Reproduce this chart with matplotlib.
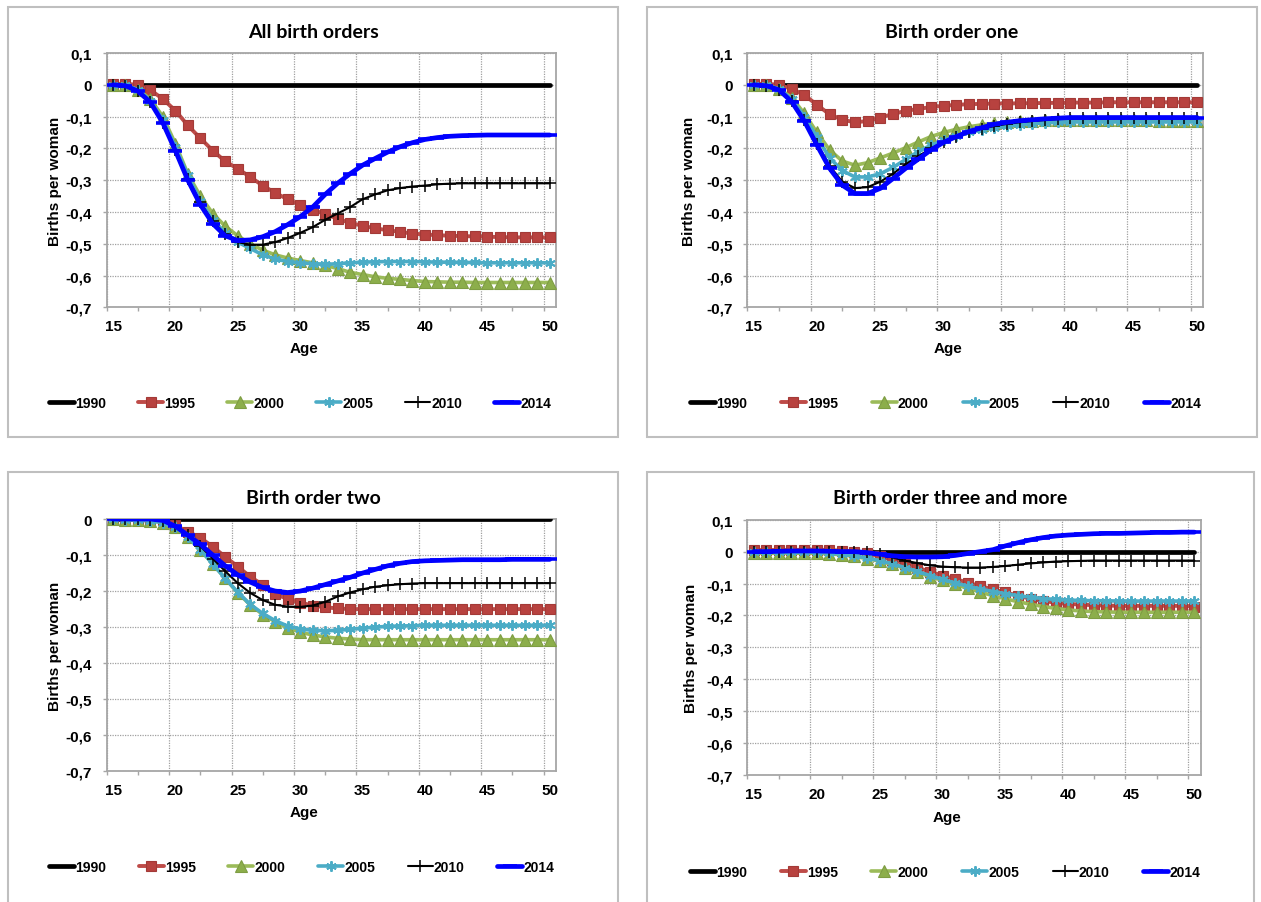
import numpy as np
import matplotlib
matplotlib.use("Agg")
import matplotlib.pyplot as plt
import matplotlib.transforms as mtransforms
from matplotlib import font_manager
from matplotlib.patches import Rectangle
from matplotlib.ticker import FuncFormatter

# ages 15..50, one value per age
AGES = np.arange(15, 51)
YEARS = ["1990", "1995", "2000", "2005", "2010", "2014"]

# All birth orders
all_1990 = [0.0] * 36
all_1995 = [0.003, 0.003, 0.000, -0.016, -0.045, -0.081, -0.128, -0.168, -0.207, -0.241, -0.264, -0.290,
            -0.317, -0.340, -0.360, -0.378, -0.393, -0.407, -0.421, -0.435, -0.443, -0.452, -0.457, -0.463,
            -0.468, -0.471, -0.473, -0.475, -0.476, -0.477, -0.478, -0.479, -0.480, -0.480, -0.480, -0.480]
all_2000 = [0.000, -0.002, -0.015, -0.045, -0.100, -0.185, -0.280, -0.350, -0.405, -0.445, -0.475, -0.500,
            -0.520, -0.535, -0.545, -0.553, -0.560, -0.568, -0.578, -0.590, -0.597, -0.604, -0.609, -0.612,
            -0.616, -0.619, -0.620, -0.621, -0.621, -0.622, -0.622, -0.622, -0.622, -0.622, -0.622, -0.622]
all_2005 = [0.000, -0.002, -0.015, -0.050, -0.110, -0.195, -0.285, -0.365, -0.425, -0.465, -0.495, -0.515,
            -0.535, -0.548, -0.556, -0.560, -0.563, -0.565, -0.563, -0.560, -0.558, -0.557, -0.556, -0.556,
            -0.556, -0.557, -0.558, -0.558, -0.559, -0.559, -0.560, -0.560, -0.560, -0.560, -0.560, -0.560]
all_2010 = [0.000, -0.003, -0.020, -0.055, -0.120, -0.205, -0.295, -0.370, -0.430, -0.470, -0.495, -0.503,
            -0.503, -0.495, -0.482, -0.466, -0.448, -0.425, -0.405, -0.385, -0.360, -0.345, -0.332, -0.325,
            -0.320, -0.317, -0.313, -0.311, -0.310, -0.310, -0.310, -0.310, -0.310, -0.310, -0.310, -0.310]
all_2014 = [0.000, -0.003, -0.020, -0.055, -0.120, -0.207, -0.300, -0.377, -0.437, -0.475, -0.490, -0.488,
            -0.478, -0.462, -0.440, -0.415, -0.385, -0.345, -0.310, -0.280, -0.253, -0.232, -0.212, -0.195,
            -0.182, -0.172, -0.166, -0.162, -0.160, -0.159, -0.158, -0.158, -0.158, -0.158, -0.158, -0.158]

# Birth order one
one_1990 = [0.0] * 36
one_1995 = [0.003, 0.003, 0.000, -0.013, -0.032, -0.063, -0.093, -0.110, -0.118, -0.114, -0.103, -0.092,
            -0.082, -0.076, -0.070, -0.066, -0.063, -0.061, -0.060, -0.059, -0.059, -0.058, -0.058, -0.057,
            -0.057, -0.056, -0.056, -0.056, -0.055, -0.055, -0.055, -0.055, -0.055, -0.055, -0.055, -0.055]
one_2000 = [0.000, -0.002, -0.012, -0.040, -0.090, -0.150, -0.205, -0.240, -0.253, -0.245, -0.230, -0.215,
            -0.198, -0.180, -0.163, -0.150, -0.140, -0.132, -0.126, -0.121, -0.118, -0.115, -0.113, -0.112,
            -0.111, -0.110, -0.110, -0.110, -0.110, -0.110, -0.111, -0.112, -0.113, -0.114, -0.115, -0.115]
one_2005 = [0.000, -0.002, -0.013, -0.045, -0.100, -0.165, -0.230, -0.270, -0.290, -0.290, -0.280, -0.260,
            -0.235, -0.210, -0.190, -0.175, -0.160, -0.150, -0.142, -0.135, -0.130, -0.126, -0.122, -0.120,
            -0.118, -0.117, -0.117, -0.117, -0.117, -0.117, -0.117, -0.117, -0.117, -0.117, -0.117, -0.117]
one_2010 = [0.000, -0.003, -0.015, -0.050, -0.110, -0.185, -0.255, -0.305, -0.325, -0.322, -0.305, -0.280,
            -0.250, -0.225, -0.200, -0.180, -0.163, -0.150, -0.138, -0.130, -0.123, -0.118, -0.114, -0.111,
            -0.108, -0.106, -0.105, -0.104, -0.104, -0.104, -0.104, -0.104, -0.104, -0.104, -0.104, -0.104]
one_2014 = [0.000, -0.003, -0.016, -0.053, -0.114, -0.190, -0.263, -0.316, -0.342, -0.342, -0.326, -0.295,
            -0.263, -0.234, -0.205, -0.181, -0.163, -0.147, -0.135, -0.124, -0.118, -0.113, -0.110, -0.107,
            -0.105, -0.103, -0.103, -0.103, -0.103, -0.103, -0.103, -0.103, -0.103, -0.103, -0.103, -0.103]

# Birth order two
two_1990 = [0.0] * 36
two_1995 = [0.000, 0.000, 0.000, 0.000, -0.003, -0.018, -0.035, -0.052, -0.077, -0.105, -0.132, -0.160,
            -0.183, -0.208, -0.222, -0.232, -0.240, -0.245, -0.248, -0.250, -0.250, -0.250, -0.250, -0.250,
            -0.250, -0.250, -0.250, -0.250, -0.250, -0.250, -0.250, -0.250, -0.250, -0.250, -0.250, -0.250]
two_2000 = [0.000, -0.002, -0.003, -0.005, -0.010, -0.022, -0.050, -0.085, -0.125, -0.165, -0.205, -0.238,
            -0.265, -0.285, -0.302, -0.314, -0.322, -0.327, -0.331, -0.333, -0.335, -0.335, -0.335, -0.335,
            -0.335, -0.335, -0.335, -0.335, -0.335, -0.335, -0.335, -0.335, -0.335, -0.335, -0.335, -0.335]
two_2005 = [0.000, -0.002, -0.003, -0.005, -0.010, -0.022, -0.050, -0.085, -0.125, -0.165, -0.203, -0.237,
            -0.262, -0.282, -0.297, -0.305, -0.309, -0.310, -0.309, -0.306, -0.303, -0.300, -0.298, -0.297,
            -0.296, -0.295, -0.295, -0.295, -0.295, -0.295, -0.295, -0.295, -0.295, -0.295, -0.295, -0.295]
two_2010 = [0.000, 0.000, 0.000, -0.002, -0.006, -0.020, -0.045, -0.075, -0.110, -0.145, -0.178, -0.205,
            -0.225, -0.238, -0.243, -0.244, -0.240, -0.230, -0.215, -0.204, -0.195, -0.188, -0.184, -0.181,
            -0.179, -0.178, -0.178, -0.178, -0.178, -0.178, -0.178, -0.178, -0.178, -0.178, -0.178, -0.178]
two_2014 = [0.000, 0.000, 0.000, 0.000, -0.004, -0.020, -0.045, -0.070, -0.100, -0.130, -0.155, -0.175,
            -0.190, -0.200, -0.204, -0.200, -0.192, -0.182, -0.172, -0.162, -0.150, -0.140, -0.130, -0.123,
            -0.118, -0.116, -0.115, -0.114, -0.113, -0.113, -0.113, -0.113, -0.112, -0.112, -0.112, -0.112]

# Birth order three and more
three_1990 = [0.0] * 36
three_1995 = [0.005, 0.005, 0.005, 0.005, 0.006, 0.006, 0.005, 0.003, 0.000, -0.005, -0.015, -0.025,
              -0.038, -0.050, -0.063, -0.075, -0.086, -0.097, -0.108, -0.118, -0.128, -0.138, -0.148, -0.155,
              -0.160, -0.164, -0.166, -0.168, -0.169, -0.170, -0.170, -0.170, -0.170, -0.170, -0.170, -0.172]
three_2000 = [-0.005, -0.005, -0.005, -0.005, -0.005, -0.005, -0.007, -0.010, -0.015, -0.022, -0.030, -0.040,
              -0.052, -0.065, -0.078, -0.090, -0.103, -0.115, -0.127, -0.138, -0.148, -0.157, -0.165, -0.172,
              -0.178, -0.183, -0.186, -0.188, -0.189, -0.190, -0.190, -0.190, -0.190, -0.190, -0.190, -0.190]
three_2005 = [-0.002, -0.002, -0.002, -0.002, -0.002, -0.002, -0.004, -0.008, -0.013, -0.020, -0.028, -0.038,
              -0.050, -0.062, -0.075, -0.087, -0.098, -0.108, -0.117, -0.125, -0.132, -0.138, -0.143, -0.147,
              -0.150, -0.152, -0.153, -0.154, -0.154, -0.155, -0.155, -0.155, -0.155, -0.155, -0.155, -0.155]
three_2010 = [0.000, 0.000, 0.000, 0.000, 0.000, 0.000, 0.000, 0.000, 0.000, -0.002, -0.008, -0.018,
              -0.028, -0.036, -0.043, -0.047, -0.049, -0.050, -0.050, -0.048, -0.045, -0.041, -0.037, -0.034,
              -0.031, -0.030, -0.029, -0.028, -0.028, -0.028, -0.028, -0.028, -0.028, -0.028, -0.028, -0.028]
three_2014 = [0.000, 0.000, 0.001, 0.002, 0.002, 0.002, 0.001, 0.000, 0.000, -0.003, -0.008, -0.013,
              -0.016, -0.017, -0.017, -0.016, -0.012, -0.006, 0.000, 0.006, 0.018, 0.028, 0.037, 0.044,
              0.049, 0.052, 0.054, 0.056, 0.057, 0.057, 0.058, 0.059, 0.060, 0.060, 0.061, 0.061]

# fonts
names = {f.name for f in font_manager.fontManager.ttflist}
NARROW = "Liberation Sans Narrow" in names
LEG_FAMILY = "Liberation Sans Narrow" if NARROW else "Liberation Sans"
LEG_SIZE = 11 if NARROW else 10
TITLE_FAMILY = "Lato" if "Lato" in names else "DejaVu Sans"
plt.rcParams["font.family"] = ["Liberation Sans", "DejaVu Sans"]

# series styles (Excel 2007 look)
STYLES = {
    "1990": dict(color="black", lw=3.4, marker=None),
    "1995": dict(color="#BE4B48", lw=2.8, marker="s", ms=7.5, mfc="#B8423F", mec="#A33A37", mew=0.8),
    "2000": dict(color="#9BBB59", lw=2.6, marker="^", ms=8, mfc="#8CAE4B", mec="#7E9D43", mew=0.8),
    "2005": dict(color="#4BACC6", lw=2.6, marker=(6, 2, 0), ms=7.5, mec="#4BACC6", mew=1.4),
    "2010": dict(color="black", lw=1.5, marker="+", ms=8.5, mec="black", mew=1.1),
    "2014": dict(color="#0000FF", lw=3.4, marker="_", ms=9.5, mec="#0000FF", mew=2.6),
}

W, H = 1261, 903
fig = plt.figure(figsize=(W / 100, H / 100), dpi=100)

panels = [
    # title, data, ymax, axes box (l, t, r, b px), frame box, title y, ylabel x, xlabel y, legend x, legend y, pitch
    ("All birth orders", [all_1990, all_1995, all_2000, all_2005, all_2010, all_2014], 0.1,
     (106.7, 54, 556, 308.3), (8, 8, 618, 438), 33, 55, 349, 49, 404, 89),
    ("Birth order one", [one_1990, one_1995, one_2000, one_2005, one_2010, one_2014], 0.1,
     (747.3, 54, 1203.3, 308.3), (647, 8, 1257, 438), 33, 689, 349, 690, 404, 90.8),
    ("Birth order two", [two_1990, two_1995, two_2000, two_2005, two_2010, two_2014], 0.0,
     (106.7, 520, 556, 772.3), (8, 473, 618, 915), 499, 55, 813, 49, 868, 89.6),
    ("Birth order three and more", [three_1990, three_1995, three_2000, three_2005, three_2010, three_2014], 0.1,
     (747.3, 520.7, 1200.7, 776), (647, 473, 1254, 915), 499, 691, 818, 690, 873, 90.6),
]


def fmt_y(v, pos):
    s = "%.1f" % v
    if s in ("0.0", "-0.0"):
        return "0"
    return s.replace(".", ",")


label_shift = mtransforms.ScaledTranslation(0.063, 0, fig.dpi_scale_trans)

for title, series, ymax, box, frame, ty, ylx, xly, lgx, lgy, pitch in panels:
    l, t, r, b = box
    ax = fig.add_axes([l / W, 1 - b / H, (r - l) / W, (b - t) / H])
    lines = []
    for i, (year, vals) in enumerate(zip(YEARS, series)):
        st = STYLES[year]
        kw = dict(color=st["color"], lw=st["lw"], solid_joinstyle="round", solid_capstyle="round",
                  zorder=3 + i, label=year)
        if st["marker"] is not None:
            kw.update(marker=st["marker"], ms=st["ms"], mec=st["mec"], mew=st["mew"])
            if "mfc" in st:
                kw["mfc"] = st["mfc"]
        ln, = ax.plot(AGES + 0.5, vals, **kw)
        lines.append(ln)

    ax.set_xlim(15, 51)
    ax.set_ylim(-0.7, ymax)
    ax.set_xticks(np.arange(15, 51, 5))
    ax.set_xticks(np.arange(17.5, 51, 5), minor=True)
    ax.set_yticks(np.round(np.arange(-0.7, ymax + 0.01, 0.1), 1))
    ax.yaxis.set_major_formatter(FuncFormatter(fmt_y))
    ax.set_axisbelow(True)
    ax.grid(True, which="major", color="#A0A0A0", lw=0.9, linestyle=(0, (1, 1)))
    for sp in ax.spines.values():
        sp.set_color("#A6A6A6")
        sp.set_linewidth(1.3)
    ax.tick_params(axis="both", which="both", direction="out", color="#A6A6A6", width=1, length=3)
    ax.tick_params(axis="x", pad=5.5, labelsize=11)
    ax.tick_params(axis="y", pad=7.5, labelsize=11)
    for lab in ax.get_xticklabels() + ax.get_yticklabels():
        lab.set_fontweight("bold")
    for lab in ax.get_xticklabels():
        lab.set_transform(lab.get_transform() + label_shift)

    hpx = b - t
    wpx = r - l
    ax.set_title(title, x=((frame[0] + frame[2]) / 2 - l) / wpx, y=(b - ty) / hpx, pad=0,
                 va="center", fontsize=14, fontweight="bold", family=TITLE_FAMILY)
    ax.set_xlabel("Age", fontsize=11, fontweight="bold", va="center")
    ax.xaxis.set_label_coords(0.44, -(xly - b) / hpx)
    ax.set_ylabel("Births per woman", fontsize=11, fontweight="bold", ha="center", va="center")
    ax.yaxis.set_label_coords((ylx - l) / wpx, 0.5)

    em = LEG_SIZE / 72 * 100
    txt_w = 4 * (0.456 if NARROW else 0.556) * em
    cs = (pitch - 26 - txt_w) / em
    ax.legend(handles=lines, loc="center left", bbox_to_anchor=(lgx / W, 1 - lgy / H),
              bbox_transform=fig.transFigure, ncol=6, frameon=False, borderpad=0, borderaxespad=0,
              handlelength=25 / em, handletextpad=1 / em, columnspacing=cs, numpoints=1,
              prop=dict(family=LEG_FAMILY, size=LEG_SIZE, weight="bold"))

    fig.patches.append(Rectangle((frame[0] / W, 1 - frame[3] / H), (frame[2] - frame[0]) / W,
                                 (frame[3] - frame[1]) / H, transform=fig.transFigure,
                                 fill=False, ec="#BFBFBF", lw=1.5))

fig.savefig("out.png", dpi=100, facecolor="white")
